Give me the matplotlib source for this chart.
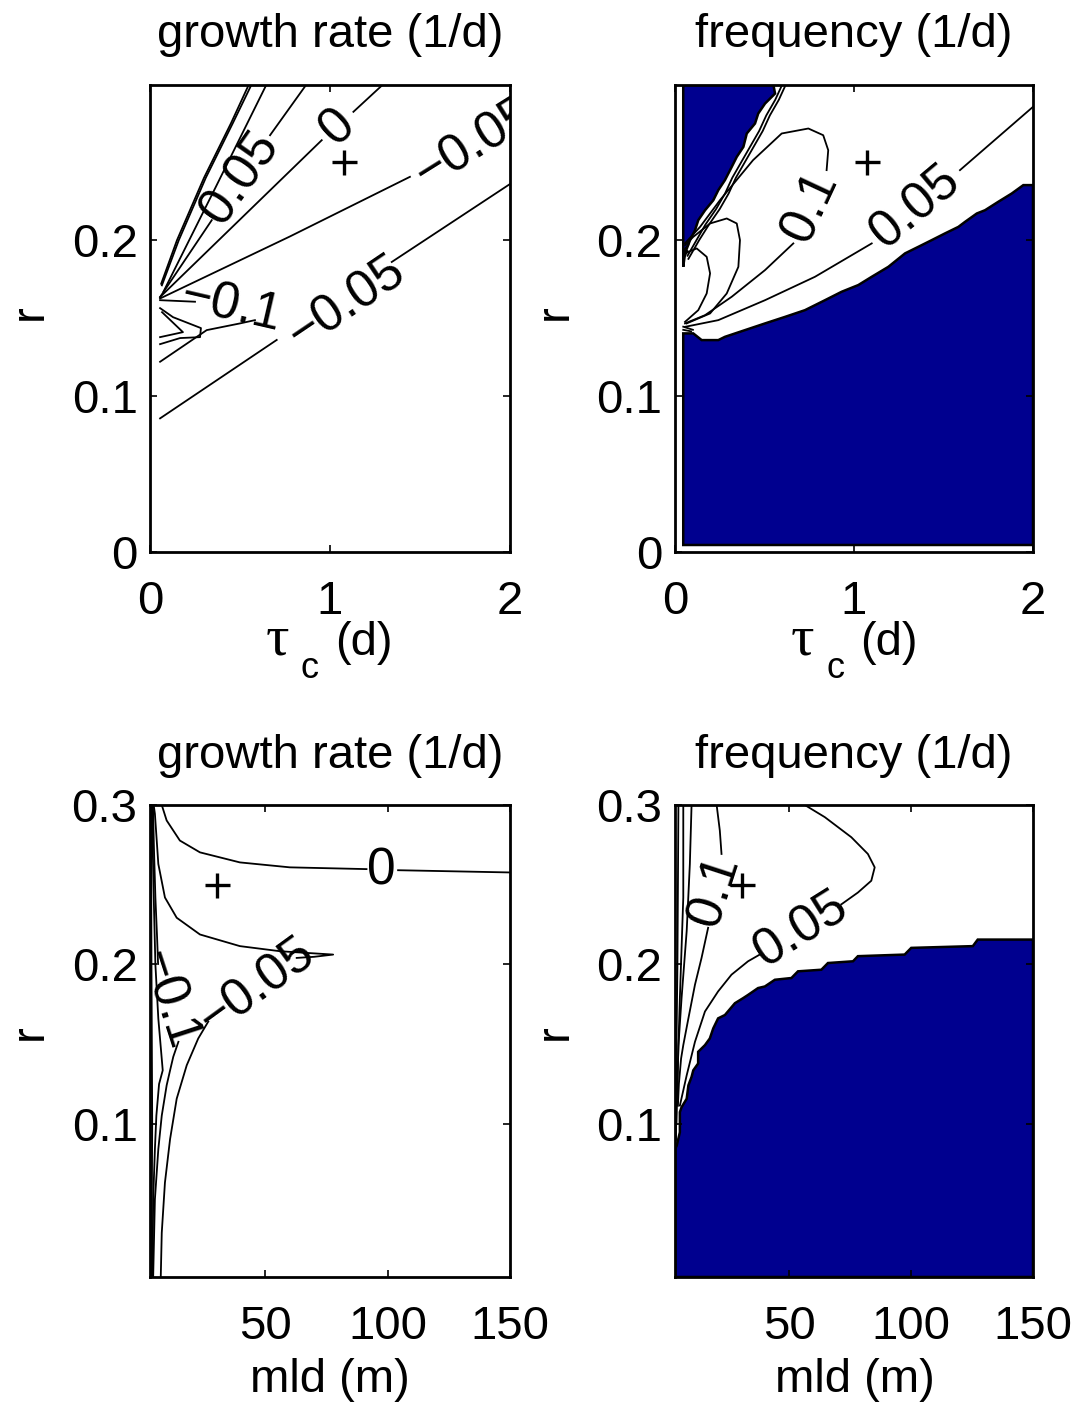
import matplotlib
matplotlib.use("Agg")
import matplotlib.pyplot as plt

plt.rcParams["font.family"] = ["Liberation Sans", "DejaVu Sans"]
plt.rcParams["font.size"] = 34

W, H = 1078, 1405
BLUE = "#00008F"

# ---------------- data ----------------
# markers (+) : the reference parameter set
tau_mark, r_mark_top = [1.075], [0.25]
mld_mark, r_mark_bot = [30.5], [0.25]

# top-left: growth rate vs tau_c, r
tl_pos1 = [(0.062, 0.172), (0.15, 0.2), (0.3, 0.24), (0.45, 0.275), (0.55, 0.3)]
tl_pos2 = [(0.066, 0.171), (0.16, 0.2), (0.31, 0.24), (0.46, 0.275), (0.565, 0.3)]
tl_pos3 = [(0.075, 0.167), (0.365, 0.234), (0.648, 0.3)]
tl_p05_a = [(0.056, 0.1635), (0.343, 0.2128)]
tl_p05_b = [(0.667, 0.2673), (0.87, 0.3)]
tl_zero_a = [(0.056, 0.1635), (0.954, 0.2641)]
tl_zero_b = [(1.13, 0.2823), (1.296, 0.3)]
tl_m05_up = [(0.056, 0.1626), (0.778, 0.2024), (1.444, 0.2406)]
tl_m05_lo_a = [(0.056, 0.0857), (0.704, 0.136)]
tl_m05_lo_b = [(1.343, 0.186), (2.0, 0.236)]
tl_m10_a = [(0.056, 0.1615), (0.25, 0.1605)]
tl_m10_b = [(0.583, 0.1487), (0.5, 0.1466), (0.315, 0.1423), (0.056, 0.122)]
tl_m15 = [(0.056, 0.1333), (0.167, 0.1372), (0.278, 0.1378), (0.283, 0.1436),
          (0.128, 0.1506), (0.056, 0.1564)]
tl_m20 = [(0.056, 0.1378), (0.183, 0.141), (0.067, 0.1538)]

# top-right: frequency vs tau_c, r (blue = no oscillation)
tr_blue_up = [(0.046, 0.3), (0.549, 0.3), (0.559, 0.294), (0.503, 0.2876), (0.465, 0.2812),
              (0.447, 0.2748), (0.401, 0.2684), (0.382, 0.2598), (0.345, 0.2534),
              (0.317, 0.247), (0.279, 0.2385), (0.242, 0.2321), (0.214, 0.2256),
              (0.168, 0.2192), (0.13, 0.2128), (0.112, 0.2064), (0.084, 0.2),
              (0.056, 0.1915), (0.046, 0.1829)]
tr_blue_lo = [(2.0, 0.2353), (1.946, 0.2353), (1.881, 0.2299), (1.806, 0.2246), (1.732, 0.2192),
              (1.686, 0.2171), (1.62, 0.2117), (1.583, 0.2085), (1.508, 0.2043), (1.434, 0.2),
              (1.359, 0.1957), (1.285, 0.1915), (1.192, 0.1829), (1.099, 0.1765),
              (1.024, 0.1712), (0.931, 0.1669), (0.838, 0.1615), (0.726, 0.1551),
              (0.615, 0.1508), (0.503, 0.1466), (0.391, 0.1423), (0.279, 0.138),
              (0.242, 0.1359), (0.149, 0.1359), (0.102, 0.1402), (0.046, 0.1402),
              (0.046, 0.0045), (2.0, 0.0045)]
tr_05_a = [(2.0, 0.2855), (1.592, 0.2449)]
tr_05_b = [(1.099, 0.1979), (0.782, 0.1765), (0.503, 0.1615), (0.242, 0.1487), (0.056, 0.1444)]
tr_10_a = [(0.056, 0.198), (0.14, 0.2085), (0.251, 0.2256), (0.436, 0.2513), (0.596, 0.2684),
           (0.745, 0.2716), (0.828, 0.2673), (0.856, 0.2577), (0.847, 0.2449)]
tr_10_b = [(0.661, 0.1979), (0.503, 0.1808), (0.317, 0.1637), (0.168, 0.1519), (0.056, 0.1466)]
tr_15 = [(0.056, 0.1968), (0.102, 0.2021), (0.196, 0.2107), (0.289, 0.2139), (0.345, 0.2107),
         (0.363, 0.2), (0.354, 0.1829), (0.289, 0.1658), (0.196, 0.153), (0.065, 0.1466)]
tr_20 = [(0.056, 0.1915), (0.121, 0.1947), (0.177, 0.1893), (0.196, 0.1787), (0.177, 0.1658),
         (0.13, 0.1551), (0.056, 0.1476)]
tr_edge1 = [(0.07, 0.19), (0.12, 0.2), (0.17, 0.21), (0.23, 0.22), (0.28, 0.23), (0.32, 0.24),
            (0.37, 0.25), (0.42, 0.26), (0.47, 0.27), (0.51, 0.28), (0.56, 0.29), (0.6, 0.3)]
tr_edge2 = [(0.075, 0.188), (0.135, 0.2), (0.19, 0.21), (0.25, 0.22), (0.3, 0.23), (0.34, 0.24),
            (0.39, 0.25), (0.44, 0.26), (0.49, 0.27), (0.53, 0.28), (0.58, 0.29), (0.62, 0.3)]
tr_stub1 = [(0.046, 0.1445), (0.1, 0.1425)]
tr_stub2 = [(0.046, 0.1425), (0.09, 0.1415)]
tr_stub3 = [(0.046, 0.193), (0.075, 0.197)]
tr_stub4 = [(0.046, 0.188), (0.07, 0.193)]

# bottom-left: growth rate vs mld, r
bl_zero_a = [(7.8, 0.3), (9.8, 0.2903), (15.2, 0.2777), (23.4, 0.2703), (39.7, 0.264),
             (60.1, 0.2609), (91.4, 0.2598)]
bl_zero_b = [(104.3, 0.2591), (150.0, 0.2577)]
bl_m05_a = [(4.5, 0.3), (5.0, 0.2945), (6.4, 0.263), (9.1, 0.242), (13.9, 0.2293),
            (23.4, 0.2188), (39.7, 0.2115), (56.1, 0.2083), (77.8, 0.2062), (70.0, 0.2048),
            (62.9, 0.2041)]
bl_m05_b = [(26.8, 0.1642), (22.7, 0.1536), (18.0, 0.1368), (13.9, 0.1158), (11.2, 0.0905),
            (9.1, 0.0632), (7.8, 0.0317), (7.4, 0.0043)]
bl_m10_a = [(4.2, 0.3), (4.6, 0.2735), (5.2, 0.242), (5.9, 0.2167), (6.3, 0.2003)]
bl_m10_b = [(14.6, 0.1515), (12.5, 0.1421), (11.2, 0.1336), (9.8, 0.1242), (7.8, 0.1052),
            (6.4, 0.0842), (5.0, 0.0527), (4.3, 0.0043)]
bl_m15 = [(3.8, 0.3), (4.4, 0.25), (5.2, 0.2), (6.4, 0.166), (7.4, 0.148), (8.2, 0.1336),
          (6.7, 0.125), (5.6, 0.1052), (5.0, 0.0842), (4.3, 0.0527), (4.0, 0.004)]
bl_m20 = [(3.4, 0.3), (3.6, 0.2), (3.9, 0.1), (3.6, 0.004)]

# bottom-right: frequency vs mld, r
br_blue = [(150.0, 0.2156), (127.3, 0.2156), (125.3, 0.2115), (100.0, 0.2104), (97.3, 0.2062),
           (78.1, 0.2052), (76.1, 0.202), (65.8, 0.2009), (63.1, 0.1967), (53.5, 0.1957),
           (50.8, 0.1915), (44.0, 0.1904), (39.9, 0.1862), (37.1, 0.1852), (33.0, 0.1809),
           (31.0, 0.1789), (27.6, 0.1757), (23.5, 0.1683), (20.7, 0.1662), (18.7, 0.1599),
           (17.3, 0.1536), (15.3, 0.1494), (12.5, 0.1452), (12.5, 0.1379), (10.5, 0.1336),
           (9.8, 0.1295), (8.5, 0.1242), (7.8, 0.1158), (5.7, 0.1105), (5.0, 0.1074),
           (5.0, 0.0948), (3.7, 0.0863), (3.0, 0.0842), (3.0, 0.004), (150.0, 0.004)]
br_05_a = [(56.3, 0.3), (64.5, 0.2924), (75.4, 0.2798), (82.2, 0.2693), (85.0, 0.2609),
           (83.6, 0.2525), (78.1, 0.2451), (71.3, 0.2377)]
br_05_b = [(37.8, 0.2062), (33.0, 0.202), (26.2, 0.1936), (20.7, 0.1831), (15.3, 0.1705),
           (11.2, 0.1515), (7.8, 0.1305), (5.0, 0.1115)]
br_10_a = [(20.1, 0.3), (21.4, 0.284), (22.1, 0.2693)]
br_10_b = [(16.6, 0.223), (13.9, 0.2041), (11.2, 0.1873), (8.5, 0.1662), (6.4, 0.1494),
           (5.5, 0.141), (4.6, 0.1252), (4.2, 0.1114)]
br_15 = [(9.8, 0.3), (9.1, 0.263), (7.8, 0.221), (5.7, 0.179), (4.4, 0.149), (3.8, 0.116)]
br_20 = [(6.4, 0.3), (6.4, 0.242), (5.0, 0.179), (4.4, 0.149), (3.6, 0.1)]
br_25 = [(4.4, 0.3), (4.0, 0.2), (3.6, 0.149), (3.4, 0.09)]

top_xticks = [0, 1, 2]
top_yticks = [0, 0.1, 0.2]
bot_xticks = [50, 100, 150]
bot_yticks = [0.1, 0.2, 0.3]


# ---------------- drawing ----------------
fig = plt.figure(figsize=(W / 100, H / 100), dpi=100)


def px_axes(l, t, r, b):
    return fig.add_axes([l / W, 1 - b / H, (r - l) / W, (b - t) / H])


def line(ax, pts):
    xs, ys = zip(*pts)
    ax.plot(xs, ys, color="k", lw=1.3, solid_joinstyle="round")


def patch(ax, pts):
    xs, ys = zip(*pts)
    ax.fill(xs, ys, facecolor=BLUE, edgecolor="k", lw=1.8, zorder=1)


def clab(ax, x, y, s, rot):
    ax.text(x, y, s, rotation=rot, rotation_mode="anchor", ha="center",
            va="center", clip_on=True, zorder=4, fontsize=37)


def style(ax, title, xlim, ylim, xticks, yticks):
    ax.set_xlim(*xlim)
    ax.set_ylim(*ylim)
    ax.set_xticks(xticks)
    ax.set_yticks(yticks)
    ax.set_xticklabels([f"{t:g}" for t in xticks])
    ax.set_yticklabels([f"{t:g}" for t in yticks])
    ax.tick_params(direction="in", top=True, right=True, length=5, width=1.2)
    ax.tick_params(axis="x", pad=20)
    ax.tick_params(axis="y", pad=9)
    for s in ax.spines.values():
        s.set_linewidth(2.0)
    ax.set_title(title, pad=27, fontsize=34)


ax1 = px_axes(150, 85, 510, 552)
ax2 = px_axes(675, 85, 1033, 552)
ax3 = px_axes(150, 805, 510, 1277)
ax4 = px_axes(675, 805, 1033, 1277)

# top-left
for pts in [tl_pos1, tl_pos2, tl_pos3, tl_p05_a, tl_p05_b, tl_zero_a, tl_zero_b,
            tl_m05_up, tl_m05_lo_a, tl_m05_lo_b, tl_m10_a, tl_m10_b, tl_m15, tl_m20]:
    line(ax1, pts)
clab(ax1, 0.50, 0.240, "0.05", 55)
clab(ax1, 1.046, 0.2726, "0", 43)
clab(ax1, 1.80, 0.262, "\u22120.05", 32)
clab(ax1, 1.09, 0.1595, "\u22120.05", 34)
clab(ax1, 0.45, 0.157, "\u22120.1", -13)
ax1.plot(tau_mark, r_mark_top, "+", color="k", ms=18, mew=2.4)
style(ax1, "growth rate (1/d)", (0, 2), (0, 0.2995), top_xticks, top_yticks)

# top-right
patch(ax2, tr_blue_up)
patch(ax2, tr_blue_lo)
for pts in [tr_05_a, tr_05_b, tr_10_a, tr_10_b, tr_15, tr_20, tr_edge1, tr_edge2,
            tr_stub1, tr_stub2, tr_stub3, tr_stub4]:
    line(ax2, pts)
clab(ax2, 1.345, 0.2214, "0.05", 40)
clab(ax2, 0.754, 0.2214, "0.1", 65)
ax2.plot(tau_mark, r_mark_top, "+", color="k", ms=18, mew=2.4)
style(ax2, "frequency (1/d)", (0, 2), (0, 0.2995), top_xticks, top_yticks)

# bottom-left
for pts in [bl_zero_a, bl_zero_b, bl_m05_a, bl_m05_b, bl_m10_a, bl_m10_b, bl_m15, bl_m20]:
    line(ax3, pts)
clab(ax3, 97.6, 0.2588, "0", 0)
clab(ax3, 46.5, 0.1862, "\u22120.05", 36)
clab(ax3, 10.0, 0.178, "\u22120.1", -72)
ax3.plot(mld_mark, r_mark_bot, "+", color="k", ms=18, mew=2.4)
style(ax3, "growth rate (1/d)", (3, 150), (0.004, 0.3), bot_xticks, bot_yticks)

# bottom-right
patch(ax4, br_blue)
for pts in [br_05_a, br_05_b, br_10_a, br_10_b, br_15, br_20, br_25]:
    line(ax4, pts)
clab(ax4, 54.6, 0.222, "0.05", 32)
clab(ax4, 19.4, 0.2462, "0.1", 72)
ax4.plot(mld_mark, r_mark_bot, "+", color="k", ms=18, mew=2.4)
style(ax4, "frequency (1/d)", (3, 150), (0.004, 0.3), bot_xticks, bot_yticks)


def ftext(x, y, s, **kw):
    fig.text(x / W, 1 - y / H, s, **kw)


# axis labels
for dx in (0, 525):
    ftext(277 + dx, 655, "\u03c4", family=["Liberation Serif", "DejaVu Serif"],
          ha="center", va="baseline", fontsize=42)
    ftext(310 + dx, 678, "c", ha="center", va="baseline", fontsize=26)
    ftext(335 + dx, 655, "(d)", ha="left", va="baseline", fontsize=34)
    ftext(330 + dx, 1392, "mld (m)", ha="center", va="baseline", fontsize=34)
    ftext(42 + dx, 312, "r", rotation=90, rotation_mode="anchor", ha="center",
          va="baseline", fontsize=34)
    ftext(42 + dx, 1032, "r", rotation=90, rotation_mode="anchor", ha="center",
          va="baseline", fontsize=34)

fig.savefig("out.png", dpi=100)
